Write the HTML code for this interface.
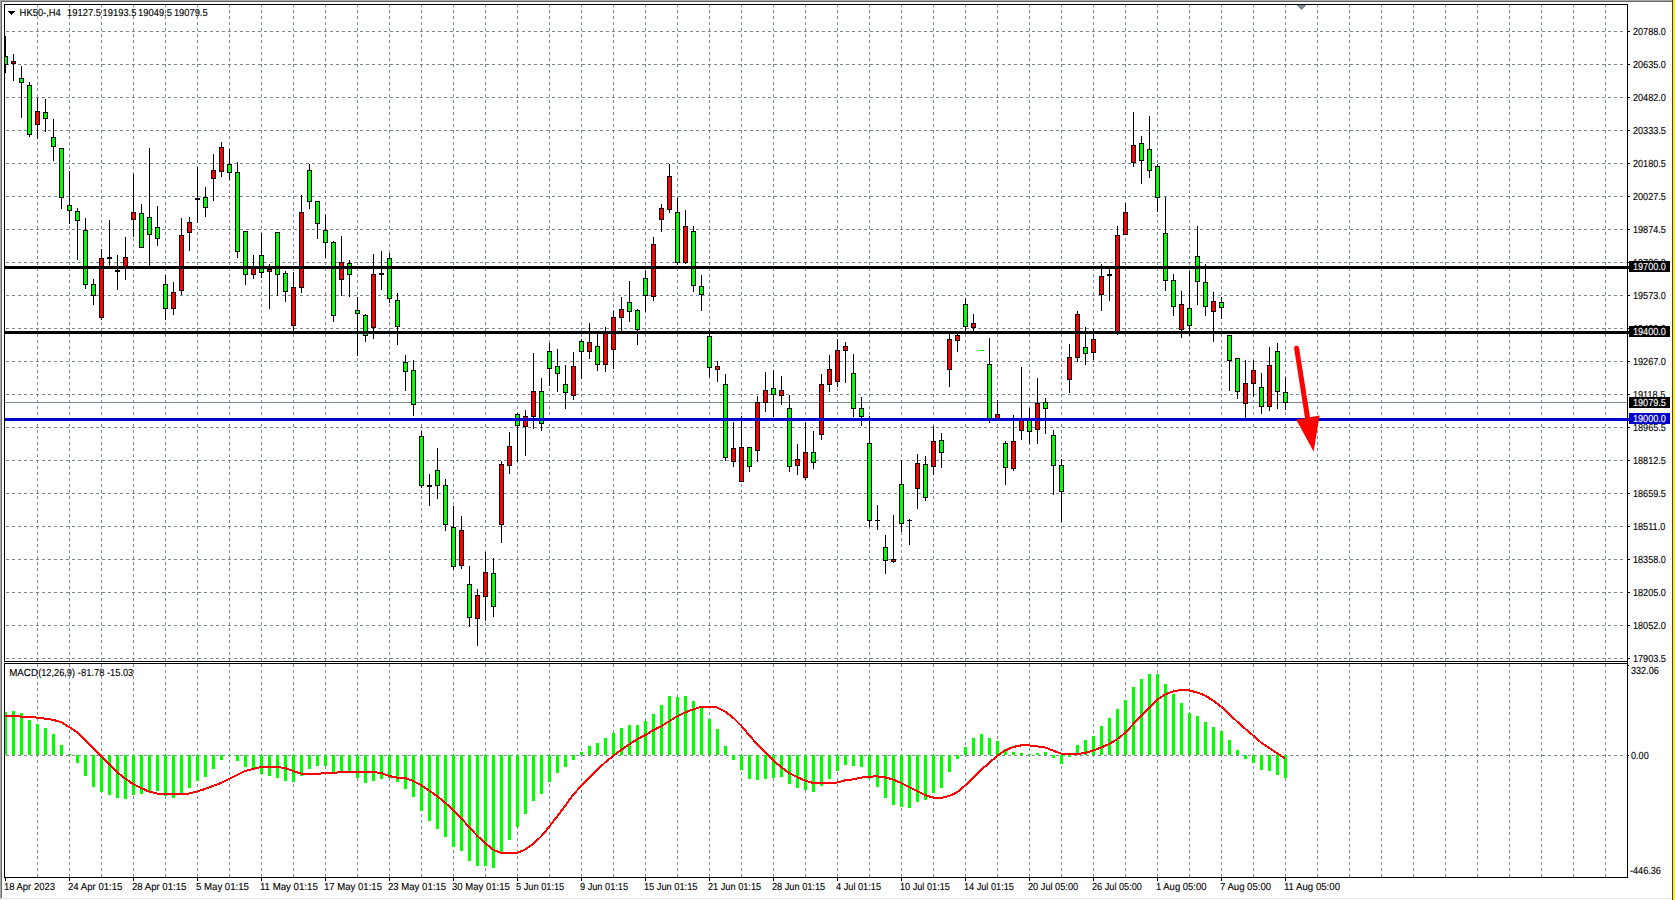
<!DOCTYPE html>
<html><head><meta charset="utf-8"><title>HK50-,H4</title>
<style>
html,body{margin:0;padding:0;background:#fff;overflow:hidden}
body{width:1675px;height:900px;position:relative;font-family:"Liberation Sans",sans-serif}
svg{position:absolute;left:0;top:0;display:block}
text{font-family:"Liberation Sans",sans-serif;font-size:10.2px;fill:#000;stroke:#000;stroke-width:0.12px;text-rendering:geometricPrecision}
.w{fill:#fff;stroke:#fff}
</style></head><body>
<svg width="1675" height="900" viewBox="0 0 1675 900">
<rect width="1675" height="900" fill="#fff"/>
<g shape-rendering="crispEdges">
<rect x="0" y="0" width="1672" height="1" fill="#a8a8a8"/>
<rect x="0" y="0" width="1" height="899" fill="#a8a8a8"/>
<rect x="1" y="1" width="1671" height="1" fill="#686868"/>
<rect x="1" y="1" width="1" height="897" fill="#686868"/>
<rect x="2" y="898" width="1669" height="1" fill="#e3e3e3"/>
<rect x="1672" y="0" width="1" height="900" fill="#40424c"/>
<rect x="1673" y="0" width="2" height="900" fill="#ffe83a"/>
</g>
<g shape-rendering="crispEdges" stroke="#778899" stroke-width="1" stroke-dasharray="3 3" fill="none">
<line x1="37.5" y1="4" x2="37.5" y2="661"/><line x1="37.5" y1="664" x2="37.5" y2="877"/>
<line x1="69.5" y1="4" x2="69.5" y2="661"/><line x1="69.5" y1="664" x2="69.5" y2="877"/>
<line x1="101.5" y1="4" x2="101.5" y2="661"/><line x1="101.5" y1="664" x2="101.5" y2="877"/>
<line x1="133.5" y1="4" x2="133.5" y2="661"/><line x1="133.5" y1="664" x2="133.5" y2="877"/>
<line x1="165.5" y1="4" x2="165.5" y2="661"/><line x1="165.5" y1="664" x2="165.5" y2="877"/>
<line x1="197.5" y1="4" x2="197.5" y2="661"/><line x1="197.5" y1="664" x2="197.5" y2="877"/>
<line x1="229.5" y1="4" x2="229.5" y2="661"/><line x1="229.5" y1="664" x2="229.5" y2="877"/>
<line x1="261.5" y1="4" x2="261.5" y2="661"/><line x1="261.5" y1="664" x2="261.5" y2="877"/>
<line x1="293.5" y1="4" x2="293.5" y2="661"/><line x1="293.5" y1="664" x2="293.5" y2="877"/>
<line x1="325.5" y1="4" x2="325.5" y2="661"/><line x1="325.5" y1="664" x2="325.5" y2="877"/>
<line x1="357.5" y1="4" x2="357.5" y2="661"/><line x1="357.5" y1="664" x2="357.5" y2="877"/>
<line x1="389.5" y1="4" x2="389.5" y2="661"/><line x1="389.5" y1="664" x2="389.5" y2="877"/>
<line x1="421.5" y1="4" x2="421.5" y2="661"/><line x1="421.5" y1="664" x2="421.5" y2="877"/>
<line x1="453.5" y1="4" x2="453.5" y2="661"/><line x1="453.5" y1="664" x2="453.5" y2="877"/>
<line x1="485.5" y1="4" x2="485.5" y2="661"/><line x1="485.5" y1="664" x2="485.5" y2="877"/>
<line x1="517.5" y1="4" x2="517.5" y2="661"/><line x1="517.5" y1="664" x2="517.5" y2="877"/>
<line x1="549.5" y1="4" x2="549.5" y2="661"/><line x1="549.5" y1="664" x2="549.5" y2="877"/>
<line x1="581.5" y1="4" x2="581.5" y2="661"/><line x1="581.5" y1="664" x2="581.5" y2="877"/>
<line x1="613.5" y1="4" x2="613.5" y2="661"/><line x1="613.5" y1="664" x2="613.5" y2="877"/>
<line x1="645.5" y1="4" x2="645.5" y2="661"/><line x1="645.5" y1="664" x2="645.5" y2="877"/>
<line x1="677.5" y1="4" x2="677.5" y2="661"/><line x1="677.5" y1="664" x2="677.5" y2="877"/>
<line x1="709.5" y1="4" x2="709.5" y2="661"/><line x1="709.5" y1="664" x2="709.5" y2="877"/>
<line x1="741.5" y1="4" x2="741.5" y2="661"/><line x1="741.5" y1="664" x2="741.5" y2="877"/>
<line x1="773.5" y1="4" x2="773.5" y2="661"/><line x1="773.5" y1="664" x2="773.5" y2="877"/>
<line x1="805.5" y1="4" x2="805.5" y2="661"/><line x1="805.5" y1="664" x2="805.5" y2="877"/>
<line x1="837.5" y1="4" x2="837.5" y2="661"/><line x1="837.5" y1="664" x2="837.5" y2="877"/>
<line x1="869.5" y1="4" x2="869.5" y2="661"/><line x1="869.5" y1="664" x2="869.5" y2="877"/>
<line x1="901.5" y1="4" x2="901.5" y2="661"/><line x1="901.5" y1="664" x2="901.5" y2="877"/>
<line x1="933.5" y1="4" x2="933.5" y2="661"/><line x1="933.5" y1="664" x2="933.5" y2="877"/>
<line x1="965.5" y1="4" x2="965.5" y2="661"/><line x1="965.5" y1="664" x2="965.5" y2="877"/>
<line x1="997.5" y1="4" x2="997.5" y2="661"/><line x1="997.5" y1="664" x2="997.5" y2="877"/>
<line x1="1029.5" y1="4" x2="1029.5" y2="661"/><line x1="1029.5" y1="664" x2="1029.5" y2="877"/>
<line x1="1061.5" y1="4" x2="1061.5" y2="661"/><line x1="1061.5" y1="664" x2="1061.5" y2="877"/>
<line x1="1093.5" y1="4" x2="1093.5" y2="661"/><line x1="1093.5" y1="664" x2="1093.5" y2="877"/>
<line x1="1125.5" y1="4" x2="1125.5" y2="661"/><line x1="1125.5" y1="664" x2="1125.5" y2="877"/>
<line x1="1157.5" y1="4" x2="1157.5" y2="661"/><line x1="1157.5" y1="664" x2="1157.5" y2="877"/>
<line x1="1189.5" y1="4" x2="1189.5" y2="661"/><line x1="1189.5" y1="664" x2="1189.5" y2="877"/>
<line x1="1221.5" y1="4" x2="1221.5" y2="661"/><line x1="1221.5" y1="664" x2="1221.5" y2="877"/>
<line x1="1253.5" y1="4" x2="1253.5" y2="661"/><line x1="1253.5" y1="664" x2="1253.5" y2="877"/>
<line x1="1285.5" y1="4" x2="1285.5" y2="661"/><line x1="1285.5" y1="664" x2="1285.5" y2="877"/>
<line x1="1317.5" y1="4" x2="1317.5" y2="661"/><line x1="1317.5" y1="664" x2="1317.5" y2="877"/>
<line x1="1349.5" y1="4" x2="1349.5" y2="661"/><line x1="1349.5" y1="664" x2="1349.5" y2="877"/>
<line x1="1381.5" y1="4" x2="1381.5" y2="661"/><line x1="1381.5" y1="664" x2="1381.5" y2="877"/>
<line x1="1413.5" y1="4" x2="1413.5" y2="661"/><line x1="1413.5" y1="664" x2="1413.5" y2="877"/>
<line x1="1445.5" y1="4" x2="1445.5" y2="661"/><line x1="1445.5" y1="664" x2="1445.5" y2="877"/>
<line x1="1477.5" y1="4" x2="1477.5" y2="661"/><line x1="1477.5" y1="664" x2="1477.5" y2="877"/>
<line x1="1509.5" y1="4" x2="1509.5" y2="661"/><line x1="1509.5" y1="664" x2="1509.5" y2="877"/>
<line x1="1541.5" y1="4" x2="1541.5" y2="661"/><line x1="1541.5" y1="664" x2="1541.5" y2="877"/>
<line x1="1573.5" y1="4" x2="1573.5" y2="661"/><line x1="1573.5" y1="664" x2="1573.5" y2="877"/>
<line x1="1605.5" y1="4" x2="1605.5" y2="661"/><line x1="1605.5" y1="664" x2="1605.5" y2="877"/>
<line x1="6" y1="31.5" x2="1626" y2="31.5"/>
<line x1="6" y1="64.5" x2="1626" y2="64.5"/>
<line x1="6" y1="97.5" x2="1626" y2="97.5"/>
<line x1="6" y1="130.5" x2="1626" y2="130.5"/>
<line x1="6" y1="163.5" x2="1626" y2="163.5"/>
<line x1="6" y1="196.5" x2="1626" y2="196.5"/>
<line x1="6" y1="229.5" x2="1626" y2="229.5"/>
<line x1="6" y1="262.5" x2="1626" y2="262.5"/>
<line x1="6" y1="295.5" x2="1626" y2="295.5"/>
<line x1="6" y1="328.5" x2="1626" y2="328.5"/>
<line x1="6" y1="361.5" x2="1626" y2="361.5"/>
<line x1="6" y1="394.5" x2="1626" y2="394.5"/>
<line x1="6" y1="427.5" x2="1626" y2="427.5"/>
<line x1="6" y1="460.5" x2="1626" y2="460.5"/>
<line x1="6" y1="493.5" x2="1626" y2="493.5"/>
<line x1="6" y1="526.5" x2="1626" y2="526.5"/>
<line x1="6" y1="559.5" x2="1626" y2="559.5"/>
<line x1="6" y1="592.5" x2="1626" y2="592.5"/>
<line x1="6" y1="625.5" x2="1626" y2="625.5"/>
<line x1="6" y1="658.5" x2="1626" y2="658.5"/>
<line x1="6" y1="755.5" x2="1626" y2="755.5"/>
</g>
<g shape-rendering="crispEdges">
<rect x="5" y="402" width="1623" height="1" fill="#778899"/>
<rect x="5" y="36" width="1" height="37"/><rect x="3" y="56" width="5" height="9"/><rect x="4" y="57" width="3" height="7" fill="#00ff00"/>
<rect x="13" y="54" width="1" height="27"/><rect x="11" y="61" width="5" height="3"/><rect x="12" y="62" width="3" height="1" fill="#ff0000"/>
<rect x="21" y="66" width="1" height="52"/><rect x="19" y="78" width="5" height="5"/><rect x="20" y="79" width="3" height="3" fill="#00ff00"/>
<rect x="29" y="82" width="1" height="55"/><rect x="27" y="85" width="5" height="50"/><rect x="28" y="86" width="3" height="48" fill="#00ff00"/>
<rect x="37" y="98" width="1" height="41"/><rect x="35" y="111" width="5" height="14"/><rect x="36" y="112" width="3" height="12" fill="#ff0000"/>
<rect x="45" y="99" width="1" height="33"/><rect x="43" y="112" width="5" height="7"/><rect x="44" y="113" width="3" height="5" fill="#00ff00"/>
<rect x="53" y="119" width="1" height="42"/><rect x="51" y="137" width="5" height="10"/><rect x="52" y="138" width="3" height="8" fill="#00ff00"/>
<rect x="61" y="148" width="1" height="61"/><rect x="59" y="148" width="5" height="50"/><rect x="60" y="149" width="3" height="48" fill="#00ff00"/>
<rect x="69" y="171" width="1" height="53"/><rect x="67" y="205" width="5" height="6"/><rect x="68" y="206" width="3" height="4" fill="#00ff00"/>
<rect x="77" y="208" width="1" height="52"/><rect x="75" y="211" width="5" height="10"/><rect x="76" y="212" width="3" height="8" fill="#00ff00"/>
<rect x="85" y="218" width="1" height="71"/><rect x="83" y="230" width="5" height="55"/><rect x="84" y="231" width="3" height="53" fill="#00ff00"/>
<rect x="93" y="279" width="1" height="26"/><rect x="91" y="284" width="5" height="12"/><rect x="92" y="285" width="3" height="10" fill="#00ff00"/>
<rect x="101" y="249" width="1" height="71"/><rect x="99" y="258" width="5" height="60"/><rect x="100" y="259" width="3" height="58" fill="#ff0000"/>
<rect x="109" y="220" width="1" height="47"/><rect x="107" y="257" width="5" height="2"/>
<rect x="117" y="255" width="1" height="35"/><rect x="115" y="270" width="5" height="2"/>
<rect x="125" y="237" width="1" height="43"/><rect x="123" y="257" width="5" height="11"/><rect x="124" y="258" width="3" height="9" fill="#ff0000"/>
<rect x="133" y="174" width="1" height="63"/><rect x="131" y="212" width="5" height="8"/><rect x="132" y="213" width="3" height="6" fill="#ff0000"/>
<rect x="141" y="204" width="1" height="44"/><rect x="139" y="213" width="5" height="35"/><rect x="140" y="214" width="3" height="33" fill="#00ff00"/>
<rect x="149" y="148" width="1" height="119"/><rect x="147" y="217" width="5" height="18"/><rect x="148" y="218" width="3" height="16" fill="#00ff00"/>
<rect x="157" y="206" width="1" height="40"/><rect x="155" y="227" width="5" height="12"/><rect x="156" y="228" width="3" height="10" fill="#00ff00"/>
<rect x="165" y="275" width="1" height="45"/><rect x="163" y="284" width="5" height="25"/><rect x="164" y="285" width="3" height="23" fill="#00ff00"/>
<rect x="173" y="282" width="1" height="33"/><rect x="171" y="292" width="5" height="17"/><rect x="172" y="293" width="3" height="15" fill="#ff0000"/>
<rect x="181" y="218" width="1" height="77"/><rect x="179" y="235" width="5" height="56"/><rect x="180" y="236" width="3" height="54" fill="#ff0000"/>
<rect x="189" y="217" width="1" height="34"/><rect x="187" y="222" width="5" height="11"/><rect x="188" y="223" width="3" height="9" fill="#ff0000"/>
<rect x="197" y="167" width="1" height="56"/><rect x="195" y="198" width="5" height="2"/>
<rect x="205" y="187" width="1" height="30"/><rect x="203" y="197" width="5" height="11"/><rect x="204" y="198" width="3" height="9" fill="#00ff00"/>
<rect x="213" y="154" width="1" height="47"/><rect x="211" y="170" width="5" height="9"/><rect x="212" y="171" width="3" height="7" fill="#ff0000"/>
<rect x="221" y="142" width="1" height="35"/><rect x="219" y="147" width="5" height="25"/><rect x="220" y="148" width="3" height="23" fill="#ff0000"/>
<rect x="229" y="149" width="1" height="31"/><rect x="227" y="164" width="5" height="9"/><rect x="228" y="165" width="3" height="7" fill="#00ff00"/>
<rect x="237" y="162" width="1" height="96"/><rect x="235" y="172" width="5" height="80"/><rect x="236" y="173" width="3" height="78" fill="#00ff00"/>
<rect x="245" y="231" width="1" height="54"/><rect x="243" y="231" width="5" height="44"/><rect x="244" y="232" width="3" height="42" fill="#00ff00"/>
<rect x="253" y="255" width="1" height="24"/><rect x="251" y="266" width="5" height="9"/><rect x="252" y="267" width="3" height="7" fill="#ff0000"/>
<rect x="261" y="233" width="1" height="45"/><rect x="259" y="255" width="5" height="18"/><rect x="260" y="256" width="3" height="16" fill="#00ff00"/>
<rect x="269" y="264" width="1" height="45"/><rect x="267" y="269" width="5" height="3"/><rect x="268" y="270" width="3" height="1" fill="#ff0000"/>
<rect x="277" y="232" width="1" height="64"/><rect x="275" y="232" width="5" height="43"/><rect x="276" y="233" width="3" height="41" fill="#00ff00"/>
<rect x="285" y="271" width="1" height="31"/><rect x="283" y="273" width="5" height="19"/><rect x="284" y="274" width="3" height="17" fill="#00ff00"/>
<rect x="293" y="272" width="1" height="59"/><rect x="291" y="287" width="5" height="39"/><rect x="292" y="288" width="3" height="37" fill="#ff0000"/>
<rect x="301" y="195" width="1" height="98"/><rect x="299" y="212" width="5" height="76"/><rect x="300" y="213" width="3" height="74" fill="#ff0000"/>
<rect x="309" y="164" width="1" height="45"/><rect x="307" y="170" width="5" height="32"/><rect x="308" y="171" width="3" height="30" fill="#00ff00"/>
<rect x="317" y="201" width="1" height="38"/><rect x="315" y="201" width="5" height="23"/><rect x="316" y="202" width="3" height="21" fill="#00ff00"/>
<rect x="325" y="214" width="1" height="44"/><rect x="323" y="230" width="5" height="13"/><rect x="324" y="231" width="3" height="11" fill="#00ff00"/>
<rect x="333" y="241" width="1" height="81"/><rect x="331" y="242" width="5" height="74"/><rect x="332" y="243" width="3" height="72" fill="#00ff00"/>
<rect x="341" y="236" width="1" height="60"/><rect x="339" y="262" width="5" height="18"/><rect x="340" y="263" width="3" height="16" fill="#ff0000"/>
<rect x="349" y="260" width="1" height="37"/><rect x="347" y="263" width="5" height="12"/><rect x="348" y="264" width="3" height="10" fill="#00ff00"/>
<rect x="357" y="297" width="1" height="59"/><rect x="355" y="310" width="5" height="4"/><rect x="356" y="311" width="3" height="2" fill="#00ff00"/>
<rect x="365" y="314" width="1" height="28"/><rect x="363" y="315" width="5" height="21"/><rect x="364" y="316" width="3" height="19" fill="#00ff00"/>
<rect x="373" y="254" width="1" height="85"/><rect x="371" y="274" width="5" height="54"/><rect x="372" y="275" width="3" height="52" fill="#ff0000"/>
<rect x="381" y="251" width="1" height="39"/><rect x="379" y="273" width="5" height="2"/>
<rect x="389" y="253" width="1" height="50"/><rect x="387" y="258" width="5" height="41"/><rect x="388" y="259" width="3" height="39" fill="#00ff00"/>
<rect x="397" y="293" width="1" height="52"/><rect x="395" y="300" width="5" height="27"/><rect x="396" y="301" width="3" height="25" fill="#00ff00"/>
<rect x="405" y="355" width="1" height="36"/><rect x="403" y="362" width="5" height="10"/><rect x="404" y="363" width="3" height="8" fill="#00ff00"/>
<rect x="413" y="360" width="1" height="56"/><rect x="411" y="370" width="5" height="35"/><rect x="412" y="371" width="3" height="33" fill="#00ff00"/>
<rect x="421" y="431" width="1" height="57"/><rect x="419" y="436" width="5" height="50"/><rect x="420" y="437" width="3" height="48" fill="#00ff00"/>
<rect x="429" y="474" width="1" height="32"/><rect x="427" y="485" width="5" height="2"/>
<rect x="437" y="448" width="1" height="51"/><rect x="435" y="470" width="5" height="16"/><rect x="436" y="471" width="3" height="14" fill="#00ff00"/>
<rect x="445" y="479" width="1" height="52"/><rect x="443" y="485" width="5" height="40"/><rect x="444" y="486" width="3" height="38" fill="#00ff00"/>
<rect x="453" y="506" width="1" height="64"/><rect x="451" y="527" width="5" height="40"/><rect x="452" y="528" width="3" height="38" fill="#00ff00"/>
<rect x="461" y="516" width="1" height="53"/><rect x="459" y="530" width="5" height="36"/><rect x="460" y="531" width="3" height="34" fill="#ff0000"/>
<rect x="469" y="566" width="1" height="61"/><rect x="467" y="584" width="5" height="34"/><rect x="468" y="585" width="3" height="32" fill="#00ff00"/>
<rect x="477" y="589" width="1" height="57"/><rect x="475" y="595" width="5" height="24"/><rect x="476" y="596" width="3" height="22" fill="#ff0000"/>
<rect x="485" y="552" width="1" height="69"/><rect x="483" y="572" width="5" height="25"/><rect x="484" y="573" width="3" height="23" fill="#ff0000"/>
<rect x="493" y="558" width="1" height="59"/><rect x="491" y="573" width="5" height="34"/><rect x="492" y="574" width="3" height="32" fill="#00ff00"/>
<rect x="501" y="461" width="1" height="82"/><rect x="499" y="464" width="5" height="61"/><rect x="500" y="465" width="3" height="59" fill="#ff0000"/>
<rect x="509" y="432" width="1" height="42"/><rect x="507" y="446" width="5" height="20"/><rect x="508" y="447" width="3" height="18" fill="#ff0000"/>
<rect x="517" y="413" width="1" height="49"/><rect x="515" y="414" width="5" height="12"/><rect x="516" y="415" width="3" height="10" fill="#00ff00"/>
<rect x="525" y="410" width="1" height="46"/><rect x="523" y="416" width="5" height="11"/><rect x="524" y="417" width="3" height="9" fill="#ff0000"/>
<rect x="533" y="353" width="1" height="76"/><rect x="531" y="391" width="5" height="26"/><rect x="532" y="392" width="3" height="24" fill="#ff0000"/>
<rect x="541" y="378" width="1" height="53"/><rect x="539" y="391" width="5" height="33"/><rect x="540" y="392" width="3" height="31" fill="#00ff00"/>
<rect x="549" y="343" width="1" height="43"/><rect x="547" y="351" width="5" height="18"/><rect x="548" y="352" width="3" height="16" fill="#00ff00"/>
<rect x="557" y="349" width="1" height="43"/><rect x="555" y="366" width="5" height="8"/><rect x="556" y="367" width="3" height="6" fill="#00ff00"/>
<rect x="565" y="365" width="1" height="44"/><rect x="563" y="384" width="5" height="9"/><rect x="564" y="385" width="3" height="7" fill="#00ff00"/>
<rect x="573" y="352" width="1" height="48"/><rect x="571" y="366" width="5" height="30"/><rect x="572" y="367" width="3" height="28" fill="#ff0000"/>
<rect x="581" y="339" width="1" height="40"/><rect x="579" y="341" width="5" height="11"/><rect x="580" y="342" width="3" height="9" fill="#00ff00"/>
<rect x="589" y="323" width="1" height="36"/><rect x="587" y="342" width="5" height="10"/><rect x="588" y="343" width="3" height="8" fill="#ff0000"/>
<rect x="597" y="334" width="1" height="37"/><rect x="595" y="346" width="5" height="19"/><rect x="596" y="347" width="3" height="17" fill="#00ff00"/>
<rect x="605" y="327" width="1" height="45"/><rect x="603" y="333" width="5" height="32"/><rect x="604" y="334" width="3" height="30" fill="#ff0000"/>
<rect x="613" y="311" width="1" height="58"/><rect x="611" y="317" width="5" height="33"/><rect x="612" y="318" width="3" height="31" fill="#ff0000"/>
<rect x="621" y="297" width="1" height="34"/><rect x="619" y="309" width="5" height="9"/><rect x="620" y="310" width="3" height="7" fill="#ff0000"/>
<rect x="629" y="281" width="1" height="41"/><rect x="627" y="302" width="5" height="10"/><rect x="628" y="303" width="3" height="8" fill="#00ff00"/>
<rect x="637" y="309" width="1" height="36"/><rect x="635" y="310" width="5" height="20"/><rect x="636" y="311" width="3" height="18" fill="#00ff00"/>
<rect x="645" y="271" width="1" height="41"/><rect x="643" y="278" width="5" height="18"/><rect x="644" y="279" width="3" height="16" fill="#00ff00"/>
<rect x="653" y="237" width="1" height="64"/><rect x="651" y="244" width="5" height="53"/><rect x="652" y="245" width="3" height="51" fill="#ff0000"/>
<rect x="661" y="204" width="1" height="28"/><rect x="659" y="208" width="5" height="12"/><rect x="660" y="209" width="3" height="10" fill="#ff0000"/>
<rect x="669" y="164" width="1" height="49"/><rect x="667" y="176" width="5" height="34"/><rect x="668" y="177" width="3" height="32" fill="#ff0000"/>
<rect x="677" y="198" width="1" height="67"/><rect x="675" y="212" width="5" height="51"/><rect x="676" y="213" width="3" height="49" fill="#00ff00"/>
<rect x="685" y="210" width="1" height="54"/><rect x="683" y="226" width="5" height="37"/><rect x="684" y="227" width="3" height="35" fill="#ff0000"/>
<rect x="693" y="226" width="1" height="66"/><rect x="691" y="231" width="5" height="55"/><rect x="692" y="232" width="3" height="53" fill="#00ff00"/>
<rect x="701" y="275" width="1" height="36"/><rect x="699" y="286" width="5" height="9"/><rect x="700" y="287" width="3" height="7" fill="#00ff00"/>
<rect x="709" y="330" width="1" height="47"/><rect x="707" y="336" width="5" height="32"/><rect x="708" y="337" width="3" height="30" fill="#00ff00"/>
<rect x="717" y="361" width="1" height="21"/><rect x="715" y="366" width="5" height="4"/><rect x="716" y="367" width="3" height="2" fill="#ff0000"/>
<rect x="725" y="374" width="1" height="87"/><rect x="723" y="384" width="5" height="74"/><rect x="724" y="385" width="3" height="72" fill="#00ff00"/>
<rect x="733" y="422" width="1" height="45"/><rect x="731" y="448" width="5" height="14"/><rect x="732" y="449" width="3" height="12" fill="#ff0000"/>
<rect x="741" y="416" width="1" height="66"/><rect x="739" y="447" width="5" height="35"/><rect x="740" y="448" width="3" height="33" fill="#ff0000"/>
<rect x="749" y="447" width="1" height="25"/><rect x="747" y="447" width="5" height="20"/><rect x="748" y="448" width="3" height="18" fill="#00ff00"/>
<rect x="757" y="396" width="1" height="66"/><rect x="755" y="402" width="5" height="49"/><rect x="756" y="403" width="3" height="47" fill="#ff0000"/>
<rect x="765" y="372" width="1" height="40"/><rect x="763" y="390" width="5" height="13"/><rect x="764" y="391" width="3" height="11" fill="#ff0000"/>
<rect x="773" y="370" width="1" height="47"/><rect x="771" y="388" width="5" height="7"/><rect x="772" y="389" width="3" height="5" fill="#00ff00"/>
<rect x="781" y="376" width="1" height="29"/><rect x="779" y="390" width="5" height="6"/><rect x="780" y="391" width="3" height="4" fill="#ff0000"/>
<rect x="789" y="395" width="1" height="77"/><rect x="787" y="408" width="5" height="59"/><rect x="788" y="409" width="3" height="57" fill="#00ff00"/>
<rect x="797" y="444" width="1" height="31"/><rect x="795" y="459" width="5" height="7"/><rect x="796" y="460" width="3" height="5" fill="#ff0000"/>
<rect x="805" y="422" width="1" height="58"/><rect x="803" y="452" width="5" height="26"/><rect x="804" y="453" width="3" height="24" fill="#ff0000"/>
<rect x="813" y="431" width="1" height="38"/><rect x="811" y="452" width="5" height="11"/><rect x="812" y="453" width="3" height="9" fill="#00ff00"/>
<rect x="821" y="374" width="1" height="66"/><rect x="819" y="384" width="5" height="51"/><rect x="820" y="385" width="3" height="49" fill="#ff0000"/>
<rect x="829" y="355" width="1" height="37"/><rect x="827" y="369" width="5" height="16"/><rect x="828" y="370" width="3" height="14" fill="#ff0000"/>
<rect x="837" y="339" width="1" height="48"/><rect x="835" y="350" width="5" height="32"/><rect x="836" y="351" width="3" height="30" fill="#ff0000"/>
<rect x="845" y="342" width="1" height="41"/><rect x="843" y="346" width="5" height="5"/><rect x="844" y="347" width="3" height="3" fill="#ff0000"/>
<rect x="853" y="354" width="1" height="63"/><rect x="851" y="373" width="5" height="36"/><rect x="852" y="374" width="3" height="34" fill="#00ff00"/>
<rect x="861" y="397" width="1" height="29"/><rect x="859" y="408" width="5" height="9"/><rect x="860" y="409" width="3" height="7" fill="#00ff00"/>
<rect x="869" y="416" width="1" height="111"/><rect x="867" y="443" width="5" height="78"/><rect x="868" y="444" width="3" height="76" fill="#00ff00"/>
<rect x="877" y="505" width="1" height="25"/><rect x="875" y="520" width="5" height="1"/>
<rect x="885" y="535" width="1" height="39"/><rect x="883" y="547" width="5" height="14"/><rect x="884" y="548" width="3" height="12" fill="#00ff00"/>
<rect x="893" y="515" width="1" height="48"/><rect x="891" y="559" width="5" height="3"/><rect x="892" y="560" width="3" height="1" fill="#ff0000"/>
<rect x="901" y="460" width="1" height="72"/><rect x="899" y="484" width="5" height="40"/><rect x="900" y="485" width="3" height="38" fill="#00ff00"/>
<rect x="909" y="519" width="1" height="26"/><rect x="907" y="520" width="5" height="1"/>
<rect x="917" y="454" width="1" height="55"/><rect x="915" y="463" width="5" height="26"/><rect x="916" y="464" width="3" height="24" fill="#ff0000"/>
<rect x="925" y="456" width="1" height="45"/><rect x="923" y="464" width="5" height="34"/><rect x="924" y="465" width="3" height="32" fill="#00ff00"/>
<rect x="933" y="426" width="1" height="49"/><rect x="931" y="441" width="5" height="26"/><rect x="932" y="442" width="3" height="24" fill="#ff0000"/>
<rect x="941" y="433" width="1" height="35"/><rect x="939" y="440" width="5" height="13"/><rect x="940" y="441" width="3" height="11" fill="#00ff00"/>
<rect x="949" y="334" width="1" height="53"/><rect x="947" y="339" width="5" height="31"/><rect x="948" y="340" width="3" height="29" fill="#ff0000"/>
<rect x="957" y="334" width="1" height="18"/><rect x="955" y="335" width="5" height="6"/><rect x="956" y="336" width="3" height="4" fill="#ff0000"/>
<rect x="965" y="298" width="1" height="34"/><rect x="963" y="304" width="5" height="23"/><rect x="964" y="305" width="3" height="21" fill="#00ff00"/>
<rect x="973" y="314" width="1" height="17"/><rect x="971" y="323" width="5" height="5"/><rect x="972" y="324" width="3" height="3" fill="#ff0000"/>
<rect x="989" y="338" width="1" height="85"/><rect x="987" y="364" width="5" height="56"/><rect x="988" y="365" width="3" height="54" fill="#00ff00"/>
<rect x="997" y="400" width="1" height="21"/><rect x="995" y="414" width="5" height="7"/><rect x="996" y="415" width="3" height="5" fill="#ff0000"/>
<rect x="1005" y="441" width="1" height="44"/><rect x="1003" y="443" width="5" height="25"/><rect x="1004" y="444" width="3" height="23" fill="#00ff00"/>
<rect x="1013" y="415" width="1" height="56"/><rect x="1011" y="441" width="5" height="28"/><rect x="1012" y="442" width="3" height="26" fill="#ff0000"/>
<rect x="1021" y="367" width="1" height="73"/><rect x="1019" y="418" width="5" height="13"/><rect x="1020" y="419" width="3" height="11" fill="#ff0000"/>
<rect x="1029" y="408" width="1" height="36"/><rect x="1027" y="418" width="5" height="14"/><rect x="1028" y="419" width="3" height="12" fill="#00ff00"/>
<rect x="1037" y="378" width="1" height="66"/><rect x="1035" y="403" width="5" height="27"/><rect x="1036" y="404" width="3" height="25" fill="#ff0000"/>
<rect x="1045" y="398" width="1" height="36"/><rect x="1043" y="402" width="5" height="7"/><rect x="1044" y="403" width="3" height="5" fill="#00ff00"/>
<rect x="1053" y="430" width="1" height="65"/><rect x="1051" y="435" width="5" height="31"/><rect x="1052" y="436" width="3" height="29" fill="#00ff00"/>
<rect x="1061" y="459" width="1" height="63"/><rect x="1059" y="465" width="5" height="27"/><rect x="1060" y="466" width="3" height="25" fill="#00ff00"/>
<rect x="1069" y="344" width="1" height="49"/><rect x="1067" y="357" width="5" height="23"/><rect x="1068" y="358" width="3" height="21" fill="#ff0000"/>
<rect x="1077" y="311" width="1" height="51"/><rect x="1075" y="314" width="5" height="44"/><rect x="1076" y="315" width="3" height="42" fill="#ff0000"/>
<rect x="1085" y="327" width="1" height="38"/><rect x="1083" y="347" width="5" height="7"/><rect x="1084" y="348" width="3" height="5" fill="#00ff00"/>
<rect x="1093" y="329" width="1" height="31"/><rect x="1091" y="339" width="5" height="14"/><rect x="1092" y="340" width="3" height="12" fill="#ff0000"/>
<rect x="1101" y="264" width="1" height="47"/><rect x="1099" y="276" width="5" height="19"/><rect x="1100" y="277" width="3" height="17" fill="#ff0000"/>
<rect x="1109" y="269" width="1" height="32"/><rect x="1107" y="274" width="5" height="2"/>
<rect x="1117" y="226" width="1" height="109"/><rect x="1115" y="235" width="5" height="98"/><rect x="1116" y="236" width="3" height="96" fill="#ff0000"/>
<rect x="1125" y="203" width="1" height="32"/><rect x="1123" y="212" width="5" height="23"/><rect x="1124" y="213" width="3" height="21" fill="#ff0000"/>
<rect x="1133" y="112" width="1" height="55"/><rect x="1131" y="145" width="5" height="18"/><rect x="1132" y="146" width="3" height="16" fill="#ff0000"/>
<rect x="1141" y="136" width="1" height="48"/><rect x="1139" y="143" width="5" height="18"/><rect x="1140" y="144" width="3" height="16" fill="#00ff00"/>
<rect x="1149" y="116" width="1" height="62"/><rect x="1147" y="149" width="5" height="22"/><rect x="1148" y="150" width="3" height="20" fill="#00ff00"/>
<rect x="1157" y="164" width="1" height="48"/><rect x="1155" y="166" width="5" height="32"/><rect x="1156" y="167" width="3" height="30" fill="#00ff00"/>
<rect x="1165" y="197" width="1" height="94"/><rect x="1163" y="233" width="5" height="48"/><rect x="1164" y="234" width="3" height="46" fill="#00ff00"/>
<rect x="1173" y="274" width="1" height="42"/><rect x="1171" y="280" width="5" height="27"/><rect x="1172" y="281" width="3" height="25" fill="#00ff00"/>
<rect x="1181" y="291" width="1" height="47"/><rect x="1179" y="304" width="5" height="26"/><rect x="1180" y="305" width="3" height="24" fill="#ff0000"/>
<rect x="1189" y="271" width="1" height="65"/><rect x="1187" y="308" width="5" height="18"/><rect x="1188" y="309" width="3" height="16" fill="#00ff00"/>
<rect x="1197" y="226" width="1" height="79"/><rect x="1195" y="256" width="5" height="26"/><rect x="1196" y="257" width="3" height="24" fill="#00ff00"/>
<rect x="1205" y="264" width="1" height="52"/><rect x="1203" y="282" width="5" height="25"/><rect x="1204" y="283" width="3" height="23" fill="#00ff00"/>
<rect x="1213" y="292" width="1" height="50"/><rect x="1211" y="301" width="5" height="11"/><rect x="1212" y="302" width="3" height="9" fill="#ff0000"/>
<rect x="1221" y="297" width="1" height="22"/><rect x="1219" y="302" width="5" height="6"/><rect x="1220" y="303" width="3" height="4" fill="#00ff00"/>
<rect x="1229" y="335" width="1" height="56"/><rect x="1227" y="335" width="5" height="26"/><rect x="1228" y="336" width="3" height="24" fill="#00ff00"/>
<rect x="1237" y="358" width="1" height="41"/><rect x="1235" y="358" width="5" height="34"/><rect x="1236" y="359" width="3" height="32" fill="#00ff00"/>
<rect x="1245" y="360" width="1" height="59"/><rect x="1243" y="383" width="5" height="21"/><rect x="1244" y="384" width="3" height="19" fill="#ff0000"/>
<rect x="1253" y="360" width="1" height="37"/><rect x="1251" y="370" width="5" height="14"/><rect x="1252" y="371" width="3" height="12" fill="#ff0000"/>
<rect x="1261" y="373" width="1" height="41"/><rect x="1259" y="387" width="5" height="20"/><rect x="1260" y="388" width="3" height="18" fill="#00ff00"/>
<rect x="1269" y="347" width="1" height="64"/><rect x="1267" y="365" width="5" height="42"/><rect x="1268" y="366" width="3" height="40" fill="#ff0000"/>
<rect x="1277" y="343" width="1" height="66"/><rect x="1275" y="351" width="5" height="41"/><rect x="1276" y="352" width="3" height="39" fill="#00ff00"/>
<rect x="1285" y="377" width="1" height="33"/><rect x="1283" y="392" width="5" height="11"/><rect x="1284" y="393" width="3" height="9" fill="#00ff00"/>
<rect x="2" y="5" width="2" height="656" fill="#fff"/>
<rect x="979" y="350" width="5" height="1" fill="#00ff00"/>
<rect x="5" y="266" width="1624" height="3" fill="#000"/>
<rect x="5" y="331" width="1624" height="3" fill="#000"/>
<rect x="5" y="418" width="1624" height="3" fill="#0000cd"/>
</g>
<g fill="#ff0000" stroke="none"><path d="M1296.6 348.2 L1307.8 419.5" stroke="#ff0000" stroke-width="5" stroke-linecap="round" fill="none"/><polygon points="1296.3,419.8 1319.6,415.6 1313.6,451.4"/></g>
<g shape-rendering="crispEdges" fill="#00ff00">
<rect x="4" y="712" width="3" height="43"/><rect x="12" y="711" width="3" height="44"/><rect x="20" y="713" width="3" height="42"/><rect x="28" y="720" width="3" height="35"/><rect x="36" y="724" width="3" height="31"/><rect x="44" y="728" width="3" height="27"/><rect x="52" y="734" width="3" height="21"/><rect x="60" y="745" width="3" height="10"/><rect x="68" y="754" width="3" height="1"/><rect x="76" y="755" width="3" height="8"/><rect x="84" y="755" width="3" height="21"/><rect x="92" y="755" width="3" height="32"/><rect x="100" y="755" width="3" height="37"/><rect x="108" y="755" width="3" height="40"/><rect x="116" y="755" width="3" height="43"/><rect x="124" y="755" width="3" height="44"/><rect x="132" y="755" width="3" height="40"/><rect x="140" y="755" width="3" height="39"/><rect x="148" y="755" width="3" height="36"/><rect x="156" y="755" width="3" height="36"/><rect x="164" y="755" width="3" height="41"/><rect x="172" y="755" width="3" height="43"/><rect x="180" y="755" width="3" height="39"/><rect x="188" y="755" width="3" height="33"/><rect x="196" y="755" width="3" height="26"/><rect x="204" y="755" width="3" height="22"/><rect x="212" y="755" width="3" height="14"/><rect x="220" y="755" width="3" height="5"/><rect x="228" y="755" width="3" height="1"/><rect x="236" y="755" width="3" height="6"/><rect x="244" y="755" width="3" height="12"/><rect x="252" y="755" width="3" height="14"/><rect x="260" y="755" width="3" height="19"/><rect x="268" y="755" width="3" height="21"/><rect x="276" y="755" width="3" height="23"/><rect x="284" y="755" width="3" height="26"/><rect x="292" y="755" width="3" height="27"/><rect x="300" y="755" width="3" height="21"/><rect x="308" y="755" width="3" height="14"/><rect x="316" y="755" width="3" height="11"/><rect x="324" y="755" width="3" height="11"/><rect x="332" y="755" width="3" height="17"/><rect x="340" y="755" width="3" height="17"/><rect x="348" y="755" width="3" height="17"/><rect x="356" y="755" width="3" height="23"/><rect x="364" y="755" width="3" height="28"/><rect x="372" y="755" width="3" height="26"/><rect x="380" y="755" width="3" height="24"/><rect x="388" y="755" width="3" height="23"/><rect x="396" y="755" width="3" height="27"/><rect x="404" y="755" width="3" height="34"/><rect x="412" y="755" width="3" height="42"/><rect x="420" y="755" width="3" height="56"/><rect x="428" y="755" width="3" height="66"/><rect x="436" y="755" width="3" height="74"/><rect x="444" y="755" width="3" height="82"/><rect x="452" y="755" width="3" height="92"/><rect x="460" y="755" width="3" height="96"/><rect x="468" y="755" width="3" height="106"/><rect x="476" y="755" width="3" height="111"/><rect x="484" y="755" width="3" height="111"/><rect x="492" y="755" width="3" height="113"/><rect x="500" y="755" width="3" height="99"/><rect x="508" y="755" width="3" height="85"/><rect x="516" y="755" width="3" height="72"/><rect x="524" y="755" width="3" height="59"/><rect x="532" y="755" width="3" height="46"/><rect x="540" y="755" width="3" height="39"/><rect x="548" y="755" width="3" height="27"/><rect x="556" y="755" width="3" height="18"/><rect x="564" y="755" width="3" height="12"/><rect x="572" y="755" width="3" height="5"/><rect x="580" y="752" width="3" height="3"/><rect x="588" y="746" width="3" height="9"/><rect x="596" y="743" width="3" height="12"/><rect x="604" y="738" width="3" height="17"/><rect x="612" y="733" width="3" height="22"/><rect x="620" y="728" width="3" height="27"/><rect x="628" y="725" width="3" height="30"/><rect x="636" y="725" width="3" height="30"/><rect x="644" y="721" width="3" height="34"/><rect x="652" y="714" width="3" height="41"/><rect x="660" y="705" width="3" height="50"/><rect x="668" y="696" width="3" height="59"/><rect x="676" y="697" width="3" height="58"/><rect x="684" y="696" width="3" height="59"/><rect x="692" y="701" width="3" height="54"/><rect x="700" y="707" width="3" height="48"/><rect x="708" y="719" width="3" height="36"/><rect x="716" y="729" width="3" height="26"/><rect x="724" y="746" width="3" height="9"/><rect x="732" y="755" width="3" height="5"/><rect x="740" y="755" width="3" height="15"/><rect x="748" y="755" width="3" height="24"/><rect x="756" y="755" width="3" height="25"/><rect x="764" y="755" width="3" height="24"/><rect x="772" y="755" width="3" height="23"/><rect x="780" y="755" width="3" height="22"/><rect x="788" y="755" width="3" height="29"/><rect x="796" y="755" width="3" height="33"/><rect x="804" y="755" width="3" height="35"/><rect x="812" y="755" width="3" height="37"/><rect x="820" y="755" width="3" height="31"/><rect x="828" y="755" width="3" height="24"/><rect x="836" y="755" width="3" height="16"/><rect x="844" y="755" width="3" height="10"/><rect x="852" y="755" width="3" height="11"/><rect x="860" y="755" width="3" height="12"/><rect x="868" y="755" width="3" height="24"/><rect x="876" y="755" width="3" height="32"/><rect x="884" y="755" width="3" height="43"/><rect x="892" y="755" width="3" height="50"/><rect x="900" y="755" width="3" height="52"/><rect x="908" y="755" width="3" height="53"/><rect x="916" y="755" width="3" height="47"/><rect x="924" y="755" width="3" height="45"/><rect x="932" y="755" width="3" height="38"/><rect x="940" y="755" width="3" height="33"/><rect x="948" y="755" width="3" height="17"/><rect x="956" y="755" width="3" height="4"/><rect x="964" y="747" width="3" height="8"/><rect x="972" y="738" width="3" height="17"/><rect x="980" y="734" width="3" height="21"/><rect x="988" y="738" width="3" height="17"/><rect x="996" y="741" width="3" height="14"/><rect x="1004" y="749" width="3" height="6"/><rect x="1012" y="752" width="3" height="3"/><rect x="1020" y="753" width="3" height="2"/><rect x="1028" y="754" width="3" height="1"/><rect x="1036" y="753" width="3" height="2"/><rect x="1044" y="752" width="3" height="3"/><rect x="1052" y="755" width="3" height="3"/><rect x="1060" y="755" width="3" height="9"/><rect x="1068" y="755" width="3" height="2"/><rect x="1076" y="745" width="3" height="10"/><rect x="1084" y="740" width="3" height="15"/><rect x="1092" y="736" width="3" height="19"/><rect x="1100" y="726" width="3" height="29"/><rect x="1108" y="718" width="3" height="37"/><rect x="1116" y="709" width="3" height="46"/><rect x="1124" y="700" width="3" height="55"/><rect x="1132" y="687" width="3" height="68"/><rect x="1140" y="679" width="3" height="76"/><rect x="1148" y="674" width="3" height="81"/><rect x="1156" y="674" width="3" height="81"/><rect x="1164" y="684" width="3" height="71"/><rect x="1172" y="694" width="3" height="61"/><rect x="1180" y="703" width="3" height="52"/><rect x="1188" y="713" width="3" height="42"/><rect x="1196" y="716" width="3" height="39"/><rect x="1204" y="722" width="3" height="33"/><rect x="1212" y="727" width="3" height="28"/><rect x="1220" y="731" width="3" height="24"/><rect x="1228" y="740" width="3" height="15"/><rect x="1236" y="750" width="3" height="5"/><rect x="1244" y="755" width="3" height="4"/><rect x="1252" y="755" width="3" height="8"/><rect x="1260" y="755" width="3" height="15"/><rect x="1268" y="755" width="3" height="16"/><rect x="1276" y="755" width="3" height="20"/><rect x="1284" y="755" width="3" height="23"/>
</g>
<polyline points="5,716 13,716 21,716.6 29,717 37,717.6 45,718.6 53,719.8 61,722 69,727 77,732 85,740 93,748 101,756 109,764 117,772 125,778.6 133,784 141,788 149,791.6 157,793.6 165,794 173,794 181,794 189,793.6 197,791.6 205,789 213,786 221,783 229,779 237,775 245,771 253,769 261,767 269,767 277,767 285,768 293,771 301,773.6 309,774 317,774 325,773 350,772 373,772 381,773 389,776 397,777.6 405,778 413,781 421,785 429,790.6 437,796 445,802.6 453,810 461,818 469,827 477,835.6 485,843 493,849.6 501,853 509,853 517,853 525,849.6 533,844 541,836.6 549,827 557,816.6 565,806 573,795 581,786 589,778 597,770 605,762.6 613,756 621,750 629,744.6 637,739.4 645,735.3 653,730.3 661,726.4 669,721.4 677,716.4 685,712.4 693,709.4 701,707 709,707 717,707.4 725,711.6 733,717.6 741,725.4 749,735 757,744 765,752.4 773,760.4 781,767 789,773 797,777 805,780.6 813,783 821,783 829,783 837,782.6 845,780.4 853,779.4 861,777.6 869,776.6 877,776.4 885,777.4 893,779.4 901,783 909,787 917,791 925,795 933,797.6 941,798 949,796 957,792.4 965,785.6 973,778 981,770 989,763 997,756 1005,750.6 1013,747 1021,745.4 1029,745.4 1037,746.4 1045,747.4 1053,750.6 1061,753.6 1069,754 1077,754 1085,753 1093,750.6 1101,747.6 1109,744 1117,739.4 1125,733 1133,724.4 1141,716 1149,708 1157,700 1165,694.4 1173,691.4 1181,690 1189,690.4 1197,692.4 1205,695.4 1213,700.6 1221,706.4 1229,714 1237,721.4 1245,728.6 1253,735.4 1261,742.4 1269,748 1277,753 1285,758.6" fill="none" stroke="#ff0000" stroke-width="2" stroke-linejoin="round" shape-rendering="crispEdges"/>
<g shape-rendering="crispEdges" fill="#000">
<rect x="4" y="4" width="1624" height="1"/>
<rect x="4" y="4" width="1" height="658"/>
<rect x="4" y="661" width="1624" height="1"/>
<rect x="4" y="663" width="1624" height="1"/>
<rect x="4" y="663" width="1" height="215"/>
<rect x="4" y="877" width="1624" height="1"/>
<rect x="1627" y="4" width="1" height="874"/>
<rect x="1627" y="418" width="2" height="3" fill="#0000cd"/>
<rect x="1628" y="31" width="2" height="1"/><rect x="1628" y="64" width="2" height="1"/><rect x="1628" y="97" width="2" height="1"/><rect x="1628" y="130" width="2" height="1"/><rect x="1628" y="163" width="2" height="1"/><rect x="1628" y="196" width="2" height="1"/><rect x="1628" y="229" width="2" height="1"/><rect x="1628" y="262" width="2" height="1"/><rect x="1628" y="295" width="2" height="1"/><rect x="1628" y="328" width="2" height="1"/><rect x="1628" y="361" width="2" height="1"/><rect x="1628" y="394" width="2" height="1"/><rect x="1628" y="427" width="2" height="1"/><rect x="1628" y="460" width="2" height="1"/><rect x="1628" y="493" width="2" height="1"/><rect x="1628" y="526" width="2" height="1"/><rect x="1628" y="559" width="2" height="1"/><rect x="1628" y="592" width="2" height="1"/><rect x="1628" y="625" width="2" height="1"/><rect x="1628" y="658" width="2" height="1"/><rect x="1628" y="665" width="1" height="1"/><rect x="1628" y="755" width="1" height="1"/>
<rect x="5" y="878" width="1" height="3"/><rect x="69" y="878" width="1" height="3"/><rect x="133" y="878" width="1" height="3"/><rect x="197" y="878" width="1" height="3"/><rect x="261" y="878" width="1" height="3"/><rect x="325" y="878" width="1" height="3"/><rect x="389" y="878" width="1" height="3"/><rect x="453" y="878" width="1" height="3"/><rect x="517" y="878" width="1" height="3"/><rect x="581" y="878" width="1" height="3"/><rect x="645" y="878" width="1" height="3"/><rect x="709" y="878" width="1" height="3"/><rect x="773" y="878" width="1" height="3"/><rect x="837" y="878" width="1" height="3"/><rect x="901" y="878" width="1" height="3"/><rect x="965" y="878" width="1" height="3"/><rect x="1029" y="878" width="1" height="3"/><rect x="1093" y="878" width="1" height="3"/><rect x="1157" y="878" width="1" height="3"/><rect x="1221" y="878" width="1" height="3"/><rect x="1285" y="878" width="1" height="3"/>
<polygon points="1297,5 1306,5 1301.5,9.8" fill="#778899"/>
<polygon points="8,11 15,11 11.5,14.8"/>
</g>
<text transform="translate(1633,35) scale(0.8935,1)">20788.0</text>
<text transform="translate(1633,68) scale(0.8935,1)">20635.0</text>
<text transform="translate(1633,101) scale(0.8935,1)">20482.0</text>
<text transform="translate(1633,134) scale(0.8935,1)">20333.5</text>
<text transform="translate(1633,167) scale(0.8935,1)">20180.5</text>
<text transform="translate(1633,200) scale(0.8935,1)">20027.5</text>
<text transform="translate(1633,233) scale(0.8935,1)">19874.5</text>
<text transform="translate(1633,266) scale(0.8935,1)">19726.0</text>
<text transform="translate(1633,299) scale(0.8935,1)">19573.0</text>
<text transform="translate(1633,332) scale(0.8935,1)">19420.0</text>
<text transform="translate(1633,365) scale(0.8935,1)">19267.0</text>
<text transform="translate(1633,398) scale(0.8935,1)">19118.5</text>
<text transform="translate(1633,431) scale(0.8935,1)">18965.5</text>
<text transform="translate(1633,464) scale(0.8935,1)">18812.5</text>
<text transform="translate(1633,497) scale(0.8935,1)">18659.5</text>
<text transform="translate(1633,530) scale(0.8935,1)">18511.0</text>
<text transform="translate(1633,563) scale(0.8935,1)">18358.0</text>
<text transform="translate(1633,596) scale(0.8935,1)">18205.0</text>
<text transform="translate(1633,629) scale(0.8935,1)">18052.0</text>
<text transform="translate(1633,662) scale(0.8935,1)">17903.5</text>
<g shape-rendering="crispEdges"><rect x="1629" y="261" width="41" height="11" fill="#000"/><rect x="1629" y="326" width="41" height="11" fill="#000"/><rect x="1629" y="397" width="41" height="11" fill="#000"/><rect x="1629" y="413" width="41" height="11" fill="#0000cd"/></g>
<text transform="translate(1633,270) scale(0.8935,1)" class="w">19700.0</text>
<text transform="translate(1633,335) scale(0.8935,1)" class="w">19400.0</text>
<text transform="translate(1633,406) scale(0.8935,1)" class="w">19079.5</text>
<text transform="translate(1633,422) scale(0.8935,1)" class="w">19000.0</text>
<text transform="translate(1631,674) scale(0.8935,1)">332.06</text>
<text transform="translate(1631,759) scale(0.8935,1)">0.00</text>
<text transform="translate(1630,874) scale(0.8935,1)">-446.36</text>
<text transform="translate(19.60,16) scale(0.9222,1)">HK50-,H4</text>
<text transform="translate(67.10,16) scale(0.9167,1)">19127.5</text>
<text transform="translate(102.60,16) scale(0.9167,1)">19193.5</text>
<text transform="translate(138.10,16) scale(0.9167,1)">19049.5</text>
<text transform="translate(173.90,16) scale(0.9167,1)">19079.5</text>
<text transform="translate(9.20,676) scale(0.9590,1)">MACD</text>
<text transform="translate(38.20,676) scale(0.9014,1)">(12,26,9)</text>
<text transform="translate(77.80,676) scale(0.9232,1)">-81.78</text>
<text transform="translate(107.00,676) scale(0.9093,1)">-15.03</text>
<text transform="translate(3.90,890) scale(0.9288,1)">18 Apr 2023</text>
<text transform="translate(68.00,890) scale(0.9421,1)">24 Apr 01:15</text>
<text transform="translate(132.00,890) scale(0.9404,1)">28 Apr 01:15</text>
<text transform="translate(196.00,890) scale(0.9442,1)">5 May 01:15</text>
<text transform="translate(259.90,890) scale(0.9500,1)">11 May 01:15</text>
<text transform="translate(323.90,890) scale(0.9416,1)">17 May 01:15</text>
<text transform="translate(388.00,890) scale(0.9400,1)">23 May 01:15</text>
<text transform="translate(452.00,890) scale(0.9368,1)">30 May 01:15</text>
<text transform="translate(516.00,890) scale(0.9060,1)">5 Jun 01:15</text>
<text transform="translate(580.00,890) scale(0.9023,1)">9 Jun 01:15</text>
<text transform="translate(643.90,890) scale(0.9087,1)">15 Jun 01:15</text>
<text transform="translate(708.00,890) scale(0.9019,1)">21 Jun 01:15</text>
<text transform="translate(772.00,890) scale(0.9019,1)">28 Jun 01:15</text>
<text transform="translate(836.00,890) scale(0.9037,1)">4 Jul 01:15</text>
<text transform="translate(899.90,890) scale(0.9014,1)">10 Jul 01:15</text>
<text transform="translate(963.90,890) scale(0.9014,1)">14 Jul 01:15</text>
<text transform="translate(1028.00,890) scale(0.9032,1)">20 Jul 05:00</text>
<text transform="translate(1092.00,890) scale(0.8996,1)">26 Jul 05:00</text>
<text transform="translate(1155.90,890) scale(0.9311,1)">1 Aug 05:00</text>
<text transform="translate(1220.00,890) scale(0.9384,1)">7 Aug 05:00</text>
<text transform="translate(1283.90,890) scale(0.9466,1)">11 Aug 05:00</text>
</svg>
</body></html>
